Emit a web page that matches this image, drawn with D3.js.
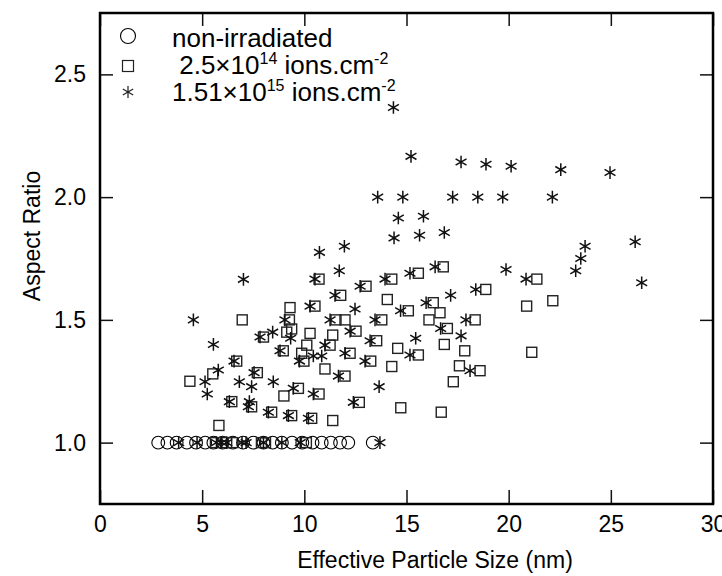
<!DOCTYPE html>
<html>
<head>
<meta charset="utf-8">
<script src="https://cdn.jsdelivr.net/npm/d3@7"></script>
<style>
  body { margin: 0; background: #fff; }
  text { font-family: "Liberation Sans", Arial, sans-serif; fill: #000; }
</style>
</head>
<body>
<div id="chart"></div>
<script>
// non-irradiated (all sit at aspect ratio 1.0)
let circleX = [2.85, 3.3, 3.75, 4.25, 4.7, 5.15, 5.55, 6.0, 6.5, 7.0, 7.5, 8.0, 8.45, 8.9, 9.4, 9.9, 10.4, 10.85, 11.3, 11.75, 12.15, 13.35]
let circleY = circleX.map(() => 1.0)

// 2.5x10^14 ions.cm^-2
let squareX = [5.65, 6.2, 6.5, 7.9, 8.1, 10.1, 5.82, 4.4, 5.52, 6.45, 6.69, 6.96, 7.42, 7.7, 8.0, 8.4, 8.97, 9.0, 9.14, 9.3, 9.27,
  9.38, 9.38, 9.71, 9.87, 9.98, 10.12, 10.28, 10.36, 10.52, 10.72, 10.72, 11.01, 11.26, 11.39, 11.39, 11.55, 11.78, 11.99, 11.99,
  12.24, 12.53, 12.69, 13.02, 13.25, 13.54, 13.79, 14.06, 14.28, 14.28, 14.57, 14.72, 15.09, 15.58, 15.58, 16.1, 16.31, 16.64,
  16.8, 16.85, 17.0, 16.7, 17.29, 17.59, 17.85, 18.36, 18.6, 18.88, 20.88, 21.13, 21.38, 22.16]
let squareY = [1.0, 1.0, 1.0, 1.0, 1.0, 1.0, 1.07, 1.25, 1.28, 1.167, 1.332, 1.5, 1.146, 1.285, 1.43, 1.124, 1.374, 1.19, 1.45, 1.55, 1.5,
  1.463, 1.11, 1.221, 1.364, 1.332, 1.397, 1.445, 1.099, 1.556, 1.666, 1.198, 1.30, 1.397, 1.438, 1.09, 1.5, 1.60, 1.5, 1.271,
  1.364, 1.454, 1.164, 1.637, 1.332, 1.415, 1.5, 1.583, 1.666, 1.31, 1.384, 1.142, 1.537, 1.69, 1.357, 1.5, 1.57, 1.529,
  1.716, 1.40, 1.465, 1.124, 1.248, 1.313, 1.374, 1.5, 1.293, 1.624, 1.556, 1.368, 1.666, 1.578]

// 1.51x10^15 ions.cm^-2
let starX = [3.85, 4.75, 5.7, 5.95, 6.2, 6.95, 7.15, 8.0, 8.9, 9.8, 13.7,
  4.57, 5.14, 5.25, 5.55, 5.79, 6.33, 6.56, 6.82, 7.02, 7.26, 7.31, 7.42, 7.54, 7.83, 8.24, 8.45, 8.48, 8.81, 9.05, 9.22,
  9.33, 9.46, 9.76, 10.2, 10.28, 10.44, 10.44, 10.52, 10.74, 10.85, 11.01, 11.26, 11.5, 11.67, 11.71, 11.96, 11.99, 12.24,
  12.4, 12.48, 12.73, 12.97, 13.22, 13.46, 13.59, 13.66, 13.95, 14.36, 14.39, 14.6, 14.71, 14.82, 15.17, 15.17, 15.22, 15.45,
  15.64, 15.83, 15.96, 16.4, 16.67, 16.85, 17.16, 17.26, 17.67, 17.67, 17.91, 18.11, 18.39, 18.49, 18.89, 19.71, 19.87,
  20.12, 20.85, 22.14, 22.55, 23.28, 23.53, 23.74, 24.96, 26.19, 26.51]
let starY = [1.0, 1.0, 1.0, 1.0, 1.0, 1.0, 1.0, 1.0, 1.0, 1.0, 1.0,
  1.5, 1.248, 1.198, 1.40, 1.296, 1.167, 1.332, 1.248, 1.665, 1.146, 1.167, 1.228, 1.285, 1.43, 1.124, 1.45, 1.248, 1.374, 1.5, 1.11,
  1.425, 1.221, 1.332, 1.099, 1.556, 1.353, 1.198, 1.666, 1.775, 1.353, 1.397, 1.5, 1.60, 1.271, 1.70, 1.80, 1.364, 1.454,
  1.164, 1.544, 1.637, 1.332, 1.415, 1.5, 2.0, 1.228, 1.666, 2.365, 1.834, 1.915, 1.537, 2.0, 1.69, 1.357, 2.166, 1.425,
  1.845, 1.922, 1.57, 1.716, 1.465, 1.856, 1.60, 2.0, 2.143, 1.435, 1.5, 1.293, 1.624, 2.0, 2.134, 2.0, 1.705,
  2.126, 1.666, 2.0, 2.112, 1.70, 1.75, 1.80, 2.10, 1.818, 1.651]

let xTicks = [0, 5, 10, 15, 20, 25, 30]
let yTicks = [1.0, 1.5, 2.0, 2.5]

let margin = { top: 13, left: 100, right: 9, bottom: 72 }
let width = 722 - margin.left - margin.right
let height = 576 - margin.top - margin.bottom

let svg = d3
  .select('#chart')
  .append('svg')
  .attr('width', 722)
  .attr('height', 576)
  .append('g')
  .attr('transform', 'translate(' + margin.left + ',' + margin.top + ')')

let xScale = d3.scaleLinear().domain([0, 30]).range([0, width])
let yScale = d3.scaleLinear().domain([0.75, 2.75]).range([height, 0])

// axes, ticks pointing inward on all four sides
let xAxis = d3.axisBottom(xScale).tickValues(xTicks).tickSizeInner(-14).tickSizeOuter(0).tickPadding(12).tickFormat(d3.format('d'))
let yAxis = d3.axisLeft(yScale).tickValues(yTicks).tickSizeInner(-13).tickSizeOuter(0).tickPadding(14).tickFormat(d3.format('.1f'))

svg.append('g').attr('transform', `translate(0,${height})`).call(xAxis)
svg.append('g').call(yAxis)
svg.append('g').call(d3.axisTop(xScale).tickValues(xTicks).tickSizeInner(-13).tickSizeOuter(0).tickFormat(''))
svg.append('g').attr('transform', `translate(${width},0)`)
  .call(d3.axisRight(yScale).tickValues(yTicks).tickSizeInner(-13).tickSizeOuter(0).tickFormat(''))

svg.selectAll('.domain').remove()
svg.selectAll('.tick line').attr('stroke', '#111').attr('stroke-width', 1.5)
svg.selectAll('.tick text').attr('font-size', 23).attr('font-family', '"Liberation Sans", Arial, sans-serif')

svg.append('rect')
  .attr('width', width)
  .attr('height', height)
  .attr('fill', 'none')
  .attr('stroke', '#000')
  .attr('stroke-width', 2.5)

// axis titles
svg.append('text')
  .attr('x', 335)
  .attr('y', height + 64)
  .attr('text-anchor', 'middle')
  .attr('font-size', 23)
  .text('Effective Particle Size (nm)')

svg.append('text')
  .attr('transform', `translate(${-60},223) rotate(-90)`)
  .attr('text-anchor', 'middle')
  .attr('font-size', 23)
  .text('Aspect Ratio')

function starPath(r) {
  let dx = r * Math.sqrt(3) / 2
  let dy = r / 2
  return `M0,${-r}L0,${r}M${-dx},${-dy}L${dx},${dy}M${-dx},${dy}L${dx},${-dy}`
}

let points = g => g.attr('transform', d => `translate(${xScale(d[0])},${yScale(d[1])})`)

svg.append('g')
  .selectAll('circle')
  .data(d3.zip(circleX, circleY))
  .enter()
  .append('circle')
  .attr('r', 6.4)
  .attr('fill', 'none')
  .attr('stroke', '#000')
  .attr('stroke-width', 1.1)
  .call(points)

svg.append('g')
  .selectAll('rect')
  .data(d3.zip(squareX, squareY))
  .enter()
  .append('rect')
  .attr('x', -5)
  .attr('y', -5)
  .attr('width', 10)
  .attr('height', 10)
  .attr('fill', 'none')
  .attr('stroke', '#222')
  .attr('stroke-width', 1.4)
  .call(points)

svg.append('g')
  .selectAll('path')
  .data(d3.zip(starX, starY))
  .enter()
  .append('path')
  .attr('d', starPath(6.3))
  .attr('fill', 'none')
  .attr('stroke', '#111')
  .attr('stroke-width', 1.5)
  .call(points)

// legend
let legend = svg.append('g').attr('transform', 'translate(28,23)')

legend.append('circle').attr('cx', 0).attr('cy', 0).attr('r', 7.5)
  .attr('fill', 'none').attr('stroke', '#000').attr('stroke-width', 1.1)
legend.append('rect').attr('x', -5.5).attr('y', 24.5).attr('width', 11).attr('height', 11)
  .attr('fill', 'none').attr('stroke', '#222').attr('stroke-width', 1.2)
legend.append('path').attr('d', starPath(6)).attr('transform', 'translate(0,56)')
  .attr('fill', 'none').attr('stroke', '#222').attr('stroke-width', 1.2)

legend.append('text').attr('x', 44).attr('y', 11).attr('font-size', 26).text('non-irradiated')

let t2 = legend.append('text').attr('x', 44).attr('y', 38).attr('font-size', 26)
t2.append('tspan').text('\u00a02.5\u00d710')
t2.append('tspan').attr('dy', -10).attr('font-size', 16).text('14')
t2.append('tspan').attr('dy', 10).text(' ions.cm')
t2.append('tspan').attr('dy', -10).attr('font-size', 16).text('-2')

let t3 = legend.append('text').attr('x', 44).attr('y', 65).attr('font-size', 26)
t3.append('tspan').text('1.51\u00d710')
t3.append('tspan').attr('dy', -10).attr('font-size', 16).text('15')
t3.append('tspan').attr('dy', 10).text(' ions.cm')
t3.append('tspan').attr('dy', -10).attr('font-size', 16).text('-2')
</script>
</body>
</html>
